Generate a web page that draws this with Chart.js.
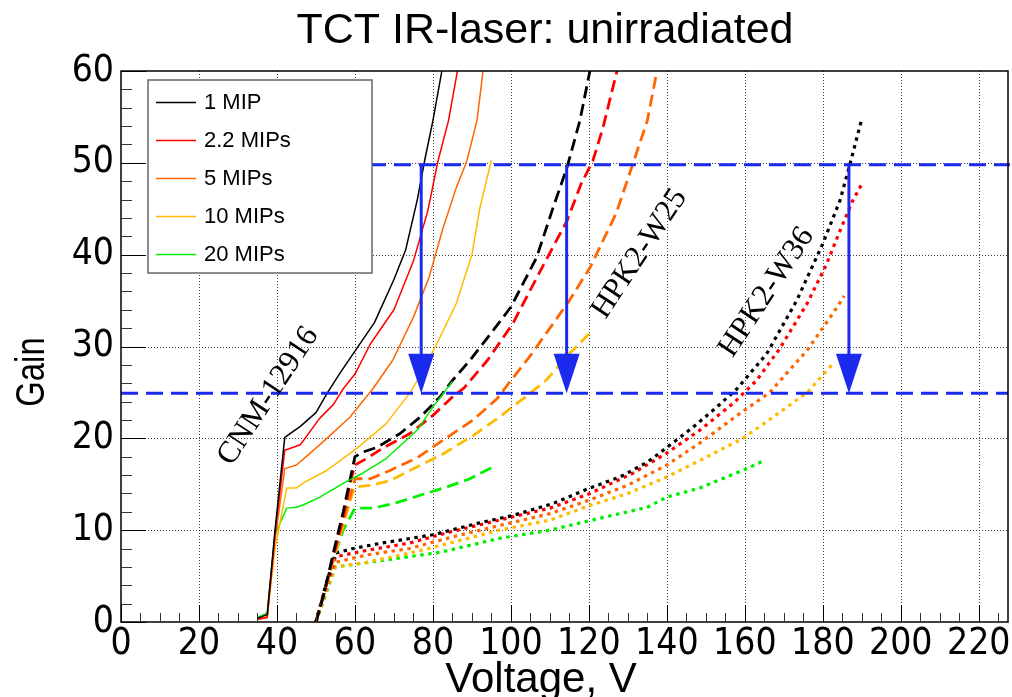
<!DOCTYPE html>
<html><head><meta charset="utf-8">
<script src="https://cdn.jsdelivr.net/npm/chart.js@4.4.0/dist/chart.umd.min.js"></script>
<style>html,body{margin:0;padding:0;background:#fff;}#wrap{width:1012px;height:697px;}</style>
</head><body><div id="wrap"><canvas id="c" width="1012" height="697"></canvas></div>
<script>
// ---------------- data ----------------
const titleText = 'TCT IR-laser: unirradiated';
const xTitle = 'Voltage, V';
const yTitle = 'Gain';
const legendLabels = ['1 MIP', '2.2 MIPs', '5 MIPs', '10 MIPs', '20 MIPs'];
const seriesColors = ['#000000', '#ff0000', '#ff6600', '#ffbb00', '#00ee00'];
const xTickValues = [0, 20, 40, 60, 80, 100, 120, 140, 160, 180, 200, 220];
const yTickValues = [0, 10, 20, 30, 40, 50, 60];

// CNM-12916 (solid)
const cnm_1mip  = [[35,0.4],[37.5,0.8],[39.5,10],[42,20.1],[46,21.3],[50,22.8],[53,25],[56,27],[60,29.5],[65,32.6],[70,37.3],[73,40.5],[76,46],[78,50.5],[80,54.6],[82.5,60.5]];
const cnm_2p2mip = [[35,0.3],[37.5,0.5],[39.5,9.5],[42,18.7],[46,19.3],[51,22.2],[54.5,23.7],[57,25.4],[60,27],[64,30.3],[70,34],[75,39.3],[78.7,44.8],[81.3,50.2],[84,54.6],[86.5,60.5]];
const cnm_5mip  = [[35,0.3],[37.5,0.5],[39.5,9],[42,16.7],[45,17.1],[48,18.2],[52.8,20],[58.7,22.3],[64.6,25.4],[69.7,28.5],[75,33.2],[79,37.5],[82.6,42.9],[86,47.3],[88.7,50.2],[91.3,54.6],[93,60.5]];
const cnm_10mip = [[35,0.3],[37.5,0.6],[39.5,8],[42.5,14.6],[45,14.6],[47,15.2],[52.8,16.5],[60.5,18.9],[68,21.6],[74,24.9],[77,27],[81,30.3],[86,34.7],[90,40],[92,45],[95,50.3]];
const cnm_20mip = [[35,0.5],[37.5,1],[39.5,9.5],[42.5,12.4],[45,12.5],[47,12.8],[51,13.6],[57,15.1],[62,16.2],[68,17.8],[76,20.9],[80,23.4],[85,26.2]];

// HPK2-W25 (dashed)
const w25_1mip  = [[50,0],[52,3],[55,8.5],[57,12],[59,16],[60,18],[62,18.5],[65.6,19],[71.5,20.5],[76.7,22.3],[81.8,24.5],[85,26.3],[89.5,28.5],[95,31.5],[100,34.3],[106.6,39.7],[110.8,45.1],[114.4,49.5],[117.7,54.6],[120.5,60.5]];
const w25_2p2mip = [[50,0],[52,3],[55,8],[57,11.5],[59,15.5],[60,17.1],[63,17.8],[67,18.9],[74,20.5],[80,22.5],[85,24.5],[88,25.5],[94,28.5],[100.5,32.5],[108,38.6],[114.4,43.7],[118,47.7],[121,50.2],[123.6,53.8],[127.5,60.5]];
const w25_5mip  = [[50,0],[52,3],[55,8],[57,11],[59,14],[60,15.6],[64,15.6],[69,16.5],[76,17.9],[82.6,19.8],[90.3,22],[96.4,24.3],[100,26.3],[105,29],[109,31.4],[115,35],[120.3,38.6],[127,44.5],[131.3,49.9],[135,54.6],[137.7,60.5]];
const w25_10mip = [[50,0],[52,3],[55,7.5],[57,10.5],[59,13.5],[60,14.7],[64.4,14.9],[69,15.4],[76,16.9],[82.6,18.3],[90.3,20.3],[97,22.3],[104,24.6],[109,26.3],[115,29.2],[120.3,31.5]];
const w25_20mip = [[50,0],[52,3],[55,7.5],[57,10],[60,12.4],[64.6,12.4],[70,12.9],[76.7,13.8],[83.6,14.7],[89.5,15.6],[95,16.8]];

// HPK2-W36 (dotted)
const w36_1mip  = [[50,0],[52.5,4],[55,7.5],[59.5,8],[67,8.6],[80,9.5],[92,10.8],[100.5,11.6],[110.8,12.9],[120.3,14.6],[128,15.8],[135,17.4],[140,19],[146.7,21.2],[152.8,23.4],[158,25.4],[165.6,29.2],[173.3,35],[180,41.2],[184.4,45.9],[187,49.9],[190,54.8]];
const w36_2p2mip = [[50,0],[52.5,3.8],[55,7.1],[63,7.8],[74,8.6],[84.4,9.8],[97,11.1],[110,12.4],[120.3,14],[131.3,16.2],[140,18.4],[148.5,20.9],[157,23.8],[163,26.3],[169,29.8],[176,34.7],[181,39],[184.4,42.6],[187.7,45.9],[190,47.7]];
const w36_5mip  = [[50,0],[52.5,3.5],[55,6.5],[63,7.3],[74,8],[84.4,9.2],[97,10.5],[110,11.8],[120.3,13.3],[130,14.9],[140,17.1],[148.5,19.5],[158.7,22.7],[166.4,25],[176,29.6],[182.6,33.6],[185.5,35.5]];
const w36_10mip = [[50,0],[52.5,3.3],[55,6],[63,6.5],[74,7.5],[84.4,8.6],[97,10],[110,11.1],[120.3,12.7],[130,14],[140,15.8],[148.5,17.6],[159.5,20],[167.2,22.3],[176,25],[183,28.3]];
const w36_20mip = [[50,0],[52.5,3],[55,6],[67,6.7],[82,7.6],[97,9.1],[110,10],[122.8,11.3],[135,12.5],[140,13.6],[148.5,14.6],[160.5,16.7],[165,17.6]];

// reference levels and arrows
const gainHigh = 49.8;
const gainLow = 24.9;
const highLineX = [63.6, 228];
const lowLineX = [0, 227.5];
const arrowX = [77, 114.3, 186.7];
const arrowHeadTop = 29.2;

// sensor labels [text, x, y]
const sensorLabels = [['CNM-12916', 37.8, 24.6], ['HPK2-W25', 133, 40.1], ['HPK2-W36', 165.6, 35.9]];

// ---------------- chart ----------------
const BLUE = '#1b2bee';
const SANS = "'Liberation Sans', Arial, Helvetica, sans-serif";
const NARROW = "'Liberation Sans Narrow', 'Arial Narrow', 'DejaVu Sans Condensed', 'Liberation Sans', sans-serif";
const SERIF = "'Liberation Serif', 'Times New Roman', serif";

const styles = {
  solid: {borderWidth: 1.5, borderDash: []},
  dashed: {borderWidth: 2.8, borderDash: [12, 6]},
  dotted: {borderWidth: 3.2, borderDash: [3.5, 4.5]}
};
function mk(label, pts, ci, style) {
  return {
    label: label,
    data: pts.map(p => ({x: p[0], y: p[1]})),
    borderColor: seriesColors[ci],
    backgroundColor: seriesColors[ci],
    borderWidth: styles[style].borderWidth,
    borderDash: styles[style].borderDash,
    borderCapStyle: 'butt',
    borderJoinStyle: 'round',
    pointRadius: 0,
    fill: false,
    tension: 0
  };
}
const datasets = [
  mk('W36 20', w36_20mip, 4, 'dotted'), mk('W36 10', w36_10mip, 3, 'dotted'), mk('W36 5', w36_5mip, 2, 'dotted'), mk('W36 2.2', w36_2p2mip, 1, 'dotted'), mk('W36 1', w36_1mip, 0, 'dotted'),
  mk('W25 20', w25_20mip, 4, 'dashed'), mk('W25 10', w25_10mip, 3, 'dashed'), mk('W25 5', w25_5mip, 2, 'dashed'), mk('W25 2.2', w25_2p2mip, 1, 'dashed'), mk('W25 1', w25_1mip, 0, 'dashed'),
  mk('CNM 20', cnm_20mip, 4, 'solid'), mk('CNM 10', cnm_10mip, 3, 'solid'), mk('CNM 5', cnm_5mip, 2, 'solid'), mk('CNM 2.2', cnm_2p2mip, 1, 'solid'), mk('CNM 1', cnm_1mip, 0, 'solid'),
  {label: 'gain 50', data: highLineX.map(x => ({x: x, y: gainHigh})), borderColor: BLUE, borderWidth: 3, borderDash: [17, 8], pointRadius: 0, fill: false, clip: false},
  {label: 'gain 25', data: lowLineX.map(x => ({x: x, y: gainLow})), borderColor: BLUE, borderWidth: 3, borderDash: [17, 8], pointRadius: 0, fill: false}
];
datasets.forEach((d, i) => { d.order = datasets.length - i; });

const rootPlugin = {
  id: 'rootStyle',
  beforeDatasetsDraw(chart) {
    const {ctx, chartArea: a, scales: {x, y}} = chart;
    ctx.save();
    ctx.strokeStyle = '#444';
    ctx.lineWidth = 1;
    ctx.setLineDash([1, 2]);
    xTickValues.forEach(v => {
      if (v === 0) return;
      const px = Math.round(x.getPixelForValue(v)) + 0.5;
      ctx.beginPath(); ctx.moveTo(px, a.top); ctx.lineTo(px, a.bottom); ctx.stroke();
    });
    yTickValues.forEach(v => {
      if (v === 0 || v === 60) return;
      const py = Math.round(y.getPixelForValue(v)) + 0.5;
      ctx.beginPath(); ctx.moveTo(a.left, py); ctx.lineTo(a.right, py); ctx.stroke();
    });
    ctx.restore();
  },
  afterDatasetsDraw(chart) {
    const {ctx, chartArea: a, scales: {x, y}} = chart;
    ctx.save();
    // arrows
    ctx.strokeStyle = BLUE; ctx.fillStyle = BLUE; ctx.lineWidth = 3; ctx.setLineDash([]);
    arrowX.forEach(v => {
      const px = x.getPixelForValue(v);
      const yt = y.getPixelForValue(gainHigh), yh = y.getPixelForValue(arrowHeadTop), yb = y.getPixelForValue(gainLow);
      ctx.beginPath(); ctx.moveTo(px, yt); ctx.lineTo(px, yh + 2); ctx.stroke();
      ctx.beginPath(); ctx.moveTo(px - 13, yh); ctx.lineTo(px + 13, yh); ctx.lineTo(px, yb); ctx.closePath(); ctx.fill();
    });
    // frame
    ctx.strokeStyle = '#000'; ctx.lineWidth = 1.5;
    ctx.strokeRect(a.left, a.top, a.right - a.left, a.bottom - a.top);
    // ticks
    ctx.lineWidth = 1;
    for (let v = 0; v <= 227.5; v += 5) {
      const px = Math.round(x.getPixelForValue(v)) + 0.5;
      const len = (v % 20 === 0) ? 17 : 9;
      ctx.strokeStyle = (v % 20 === 0) ? '#000' : '#333';
      ctx.beginPath(); ctx.moveTo(px, a.bottom); ctx.lineTo(px, a.bottom - len); ctx.stroke();
    }
    for (let v = 0; v <= 60; v += 2) {
      const py = Math.round(y.getPixelForValue(v)) + 0.5;
      const len = (v % 10 === 0) ? 25 : 11;
      ctx.strokeStyle = (v % 10 === 0) ? '#000' : '#333';
      ctx.beginPath(); ctx.moveTo(a.left, py); ctx.lineTo(a.left + len, py); ctx.stroke();
    }
    // sensor labels
    ctx.fillStyle = '#000';
    ctx.font = '31px ' + SERIF;
    ctx.textAlign = 'center'; ctx.textBaseline = 'middle';
    sensorLabels.forEach(([t, vx, vy]) => {
      ctx.save();
      ctx.translate(x.getPixelForValue(vx), y.getPixelForValue(vy));
      ctx.rotate(-56.5 * Math.PI / 180);
      ctx.fillText(t, 0, 0);
      ctx.restore();
    });
    // legend
    const L = 148, T = 80, R = 372, B = 273;
    ctx.fillStyle = '#fff'; ctx.fillRect(L, T, R - L, B - T);
    ctx.strokeStyle = '#666'; ctx.lineWidth = 1.5; ctx.strokeRect(L, T, R - L, B - T);
    ctx.font = '22px ' + SANS; ctx.textAlign = 'left'; ctx.textBaseline = 'middle';
    legendLabels.forEach((lab, i) => {
      const cy = 101.5 + i * 38.2;
      ctx.strokeStyle = seriesColors[i]; ctx.lineWidth = 1.6;
      ctx.beginPath(); ctx.moveTo(156, Math.round(cy) + 0.5); ctx.lineTo(196, Math.round(cy) + 0.5); ctx.stroke();
      ctx.fillStyle = '#000'; ctx.fillText(lab, 204, cy + 1);
    });
    // title
    ctx.font = '43px ' + SANS; ctx.textAlign = 'center'; ctx.textBaseline = 'middle';
    ctx.fillStyle = '#000';
    ctx.fillText(titleText, 545, 31);
    // axis titles
    ctx.textAlign = 'center'; ctx.textBaseline = 'alphabetic';
    ctx.font = '42px ' + SANS;
    ctx.fillText(xTitle, 541, 692);
    ctx.font = '41px ' + SANS;
    ctx.save();
    ctx.translate(44, 372);
    ctx.rotate(-Math.PI / 2);
    ctx.scale(0.8, 1);
    ctx.fillText(yTitle, 0, 0);
    ctx.restore();
    ctx.restore();
  }
};

new Chart(document.getElementById('c'), {
  type: 'line',
  data: {datasets: datasets},
  options: {
    responsive: false,
    animation: false,
    devicePixelRatio: 1,
    layout: {padding: {left: 0, right: 4, top: 71, bottom: 0}},
    plugins: {legend: {display: false}, title: {display: false}, tooltip: {enabled: false}},
    scales: {
      x: {
        type: 'linear', min: 0, max: 227.5,
        grid: {display: false, drawTicks: false}, border: {display: false},
        ticks: {stepSize: 20, autoSkip: false, maxRotation: 0, padding: 0, color: '#000', font: {family: NARROW, size: 37}},
        afterBuildTicks: s => { s.ticks = xTickValues.map(v => ({value: v})); },
        afterFit: s => { s.height = 75; }
      },
      y: {
        type: 'linear', min: 0, max: 60,
        grid: {display: false, drawTicks: false}, border: {display: false},
        ticks: {stepSize: 10, autoSkip: false, padding: 7, color: '#000', font: {family: NARROW, size: 37}},
        afterBuildTicks: s => { s.ticks = yTickValues.map(v => ({value: v})); },
        afterFit: s => { s.width = 121; }
      }
    }
  },
  plugins: [rootPlugin]
});
</script>
</body></html>
